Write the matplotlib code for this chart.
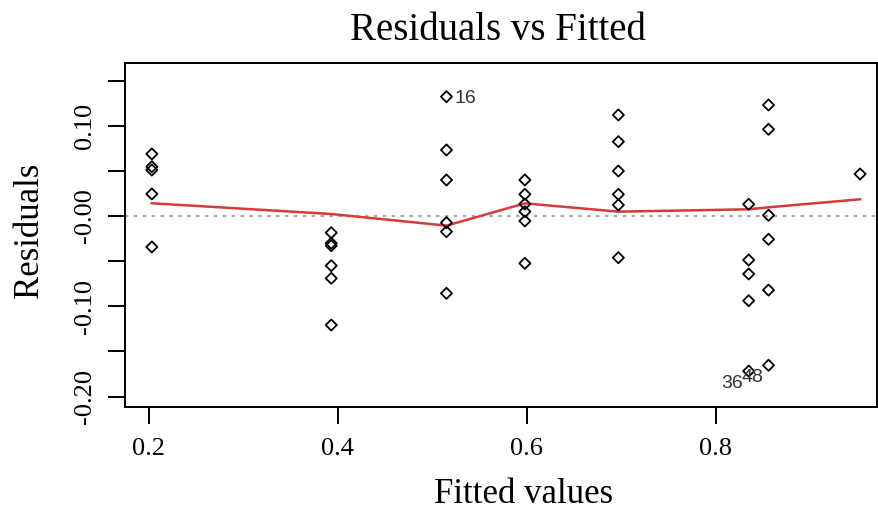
import matplotlib
matplotlib.use('Agg')
import matplotlib.pyplot as plt

# fitted values / residuals
fitted = [0.203] * 5 + [0.393] * 6 + [0.515] * 6 + [0.598] * 6 + \
         [0.697] * 6 + [0.835] * 5 + [0.856] * 6 + [0.953]
residuals = [0.0687, 0.0546, 0.0509, 0.0244, -0.0343,
             -0.0185, -0.0302, -0.0329, -0.0550, -0.0690, -0.1207,
             0.1321, 0.0731, 0.0399, -0.0074, -0.0174, -0.0856,
             0.0399, 0.0240, 0.0133, 0.0048, -0.0055, -0.0524,
             0.1119, 0.0823, 0.0498, 0.0240, 0.0122, -0.0462,
             0.0130, -0.0487, -0.0642, -0.0938, -0.1717,
             0.1229, 0.0960, 0.0008, -0.0258, -0.0820, -0.1653,
             0.0465]

# red smoother, value at each distinct fitted value
smooth_x = [0.203, 0.393, 0.515, 0.598, 0.697, 0.835, 0.856, 0.953]
smooth_y = [0.0141, 0.0022, -0.0107, 0.0140, 0.0048, 0.0074, 0.0096, 0.0185]

# labelled points: (index in the lists above, label)
ids = [(11, '16'), (33, '36'), (39, '48')]

yticks = [0.15, 0.10, 0.05, 0.0, -0.05, -0.10, -0.15, -0.20]
ytick_labels = ['', '0.10', '', '-0.00', '', '-0.10', '', '-0.20']
xticks = [0.2, 0.4, 0.6, 0.8]
xtick_labels = ['0.2', '0.4', '0.6', '0.8']

serif = ['Liberation Serif', 'DejaVu Serif']

fig = plt.figure(figsize=(8.79, 5.16), dpi=100)
ax = fig.add_axes([125 / 879, 1 - 407 / 516, 752.5 / 879, 344 / 516])

ax.axhline(0, color='#a8a8a8', lw=1.6, ls=(0, (1.5, 2.5)), zorder=1)
ax.plot(smooth_x, smooth_y, color='#d63a3a', lw=1.8, zorder=2)
ax.scatter(fitted, residuals, marker='D', s=32, facecolors='none',
           edgecolors='black', linewidths=1.3, zorder=3)

for i, lab in ids:
    if lab == '16':
        ax.annotate(lab, (fitted[i], residuals[i]), xytext=(6, -1),
                    textcoords='offset points', ha='left', va='center',
                    fontsize=14, color='#333333', family='Liberation Sans')
    else:
        ax.annotate(lab, (fitted[i], residuals[i]), xytext=(-4, -9),
                    textcoords='offset points', ha='right', va='center',
                    fontsize=14, color='#333333', family='Liberation Sans')

ax.set_xlim(0.1746, 0.9714)
ax.set_ylim(-0.2115, 0.1694)

ax.set_xticks(xticks)
ax.set_xticklabels(xtick_labels, family=serif, fontsize=19)
ax.set_yticks(yticks)
ax.set_yticklabels(ytick_labels, family=serif, fontsize=19,
                   rotation=90, va='center')
ax.tick_params(axis='both', direction='out', length=12, width=1.4,
               color='black')
ax.tick_params(axis='x', pad=10)
ax.tick_params(axis='y', pad=9)
for sp in ax.spines.values():
    sp.set_linewidth(1.4)

fig.text(498 / 879, 1 - 40 / 516, 'Residuals vs Fitted', ha='center',
         va='baseline', fontsize=28, family=serif)
fig.text(524 / 879, 1 - 503 / 516, 'Fitted values', ha='center',
         va='baseline', fontsize=25, family=serif)
fig.text(38 / 879, 1 - 230 / 516, 'Residuals', ha='center', va='baseline',
         rotation=90, rotation_mode='anchor', fontsize=25, family=serif)

fig.savefig('out.png', dpi=100)
